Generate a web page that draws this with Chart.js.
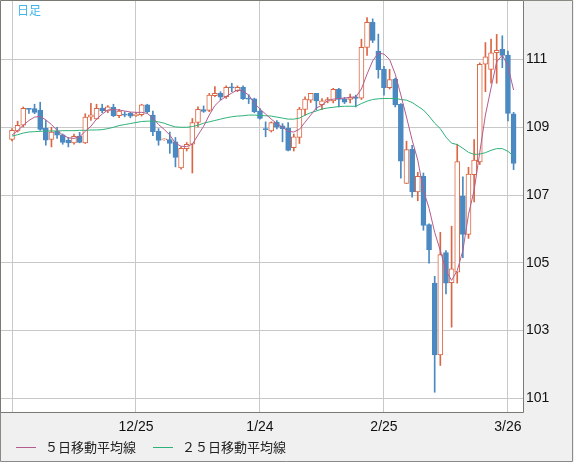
<!DOCTYPE html>
<html><head><meta charset="utf-8">
<script src="https://cdn.jsdelivr.net/npm/chart.js@4.4.1/dist/chart.umd.min.js"></script>
<style>html,body{margin:0;padding:0;background:#f0f0f0;overflow:hidden}canvas{display:block}</style>
</head><body>
<canvas id="c" width="574" height="462"></canvas>
<script>
// Daily candles (index 0 = first bar on the left)
const openP  = [108.64,108.89,109.06,109.56,109.55,109.51,108.97,108.64,108.89,108.78,108.62,108.54,108.74,108.54,109.30,109.25,109.57,109.48,109.59,109.34,109.39,109.41,109.34,109.37,109.66,109.36,108.88,108.63,108.64,108.57,107.80,108.37,108.50,109.14,109.52,109.50,109.93,110.00,109.90,110.19,110.08,110.18,109.86,109.84,109.48,108.96,108.89,109.15,109.04,108.97,108.40,108.70,109.53,109.80,110.00,109.67,109.77,109.78,110.12,109.84,109.82,109.90,109.86,111.36,112.10,111.25,110.72,110.17,110.42,109.68,107.34,108.35,107.09,107.55,106.13,104.40,102.28,105.30,104.41,104.72,106.96,105.84,107.60,107.98,110.86,110.71,111.20,111.30,111.13,109.40];
const highP  = [108.96,109.18,109.60,109.56,109.68,109.74,109.20,109.00,109.00,108.80,108.70,108.80,108.85,109.40,109.71,109.68,109.68,109.64,109.68,109.53,109.46,109.44,109.42,109.68,109.68,109.48,108.96,108.66,108.86,108.70,108.42,108.55,109.26,109.60,109.63,110.00,110.20,110.05,110.22,110.30,110.22,110.22,109.96,109.86,109.55,109.16,109.16,109.20,109.11,109.14,108.80,109.59,109.90,110.00,110.00,109.85,109.88,110.15,110.15,109.88,109.98,109.95,111.60,112.24,112.20,111.75,110.80,110.71,110.45,109.70,108.59,108.47,107.67,107.65,106.15,104.60,105.90,105.36,106.08,108.50,107.54,107.82,108.64,110.90,111.50,111.60,111.74,111.70,111.25,109.44];
const lowP   = [108.60,108.86,109.01,109.41,109.40,108.91,108.47,108.42,108.67,108.50,108.42,108.50,108.54,108.52,109.20,109.23,109.43,109.43,109.31,109.28,109.31,109.28,109.32,109.33,109.41,108.75,108.47,108.62,108.23,107.83,107.76,108.30,107.65,109.01,109.44,109.46,109.90,109.80,109.85,110.05,110.05,109.82,109.70,109.43,109.24,108.72,108.86,108.95,108.57,108.30,108.30,108.52,109.35,109.73,109.51,109.52,109.72,109.72,109.60,109.70,109.72,109.60,109.82,111.12,111.50,110.45,109.95,110.13,109.60,107.50,107.34,106.94,106.83,105.96,104.99,101.18,101.97,104.08,103.10,104.40,105.15,105.72,106.80,107.90,110.05,110.30,110.30,110.76,109.19,107.75];
const closeP = [108.91,109.06,109.56,109.53,109.44,108.94,108.62,108.86,108.77,108.55,108.54,108.73,108.55,109.30,109.37,109.56,109.48,109.60,109.34,109.48,109.36,109.33,109.39,109.66,109.45,108.87,108.61,108.65,108.52,108.11,108.38,108.50,109.14,109.53,109.47,109.95,110.00,109.89,110.18,110.16,110.18,109.84,109.83,109.46,109.26,108.93,109.14,109.00,108.96,108.32,108.72,109.54,109.83,110.00,109.78,109.78,109.82,110.12,109.82,109.74,109.88,109.85,111.36,112.10,111.56,110.70,110.17,110.41,109.66,108.00,108.34,107.09,107.55,106.10,105.39,102.28,105.24,104.40,104.82,107.99,105.84,107.62,108.03,110.86,111.08,111.20,111.27,111.12,109.41,107.93];
// Moving averages
const ma5  = [108.77,108.90,109.06,109.20,109.30,109.32,109.22,109.08,108.91,108.77,108.69,108.67,108.72,108.88,109.03,109.24,109.39,109.51,109.52,109.51,109.48,109.45,109.44,109.44,109.41,109.27,109.08,108.94,108.77,108.53,108.44,108.43,108.50,108.77,109.03,109.36,109.64,109.80,109.91,110.01,110.10,110.07,109.95,109.71,109.54,109.39,109.24,109.11,109.00,108.88,108.86,108.94,109.15,109.36,109.57,109.65,109.79,109.83,109.85,109.86,109.89,109.89,110.13,110.57,110.96,111.19,111.16,111.00,110.57,109.95,109.30,108.62,108.03,107.14,106.61,105.90,105.36,104.77,104.48,104.77,105.36,106.43,107.14,108.26,109.36,110.16,110.93,111.13,110.81,110.10];
const ma25 = [108.74,108.78,108.83,108.86,108.87,108.88,108.89,108.89,108.89,108.90,108.90,108.90,108.91,108.91,108.92,108.92,108.93,108.96,109.00,109.05,109.08,109.11,109.14,109.17,109.18,109.18,109.16,109.12,109.06,109.01,109.00,109.00,109.02,109.06,109.12,109.16,109.20,109.24,109.28,109.31,109.33,109.34,109.36,109.36,109.35,109.34,109.33,109.30,109.27,109.24,109.24,109.27,109.36,109.43,109.48,109.54,109.57,109.59,109.61,109.62,109.62,109.62,109.70,109.77,109.82,109.84,109.85,109.85,109.85,109.82,109.80,109.73,109.62,109.51,109.33,109.12,108.96,108.71,108.53,108.49,108.38,108.26,108.20,108.21,108.25,108.32,108.37,108.37,108.29,108.15];
const tickIndex  = [0, 22, 44, 66, 88];
const tickLabels = ['', '12/25', '1/24', '2/25', '3/26'];
const yTicks = [101, 103, 105, 107, 109, 111];
const seriesNames = ['５日移動平均線', '２５日移動平均線'];
const titleText = '日足';

const UP = '#dc6642', DOWN = '#4a89c1', MA5C = '#b45d8d', MA25C = '#2fb27a';
const isUp = openP.map((o, i) => closeP[i] >= o);

const wicks  = openP.map((o, i) => ({x: i, y: [lowP[i], highP[i]]}));
const bodies = openP.map((o, i) => ({x: i, y: [o, closeP[i]]}));

const framePlugin = {
  id: 'frame',
  beforeDraw(chart) {
    const {ctx, chartArea: a} = chart;
    ctx.save();
    ctx.fillStyle = '#f0f0f0';
    ctx.fillRect(0, 0, chart.width, chart.height);
    ctx.fillStyle = '#ffffff';
    ctx.fillRect(a.left, a.top, a.right - a.left, a.bottom - a.top);
    ctx.restore();
  },
  afterDraw(chart) {
    const {ctx, chartArea: a} = chart;
    ctx.save();
    ctx.strokeStyle = '#7a7a72';
    ctx.lineWidth = 1;
    ctx.beginPath();
    ctx.moveTo(a.left - 0.5, a.bottom + 0.5);
    ctx.lineTo(a.left - 0.5, a.top - 0.5);
    ctx.lineTo(a.right + 0.5, a.top - 0.5);
    ctx.lineTo(a.right + 0.5, a.bottom + 0.5);
    ctx.lineTo(a.left - 0.5, a.bottom + 0.5);
    ctx.stroke();
    ctx.strokeStyle = '#8a8a84';
    ctx.beginPath();
    ctx.moveTo(0.5, a.bottom);
    ctx.lineTo(0.5, chart.height - 0.5);
    ctx.lineTo(chart.width - 1.5, chart.height - 0.5);
    ctx.lineTo(chart.width - 1.5, 0.5);
    ctx.lineTo(a.right, 0.5);
    ctx.stroke();
    // title
    ctx.fillStyle = '#3fb6ea';
    ctx.font = '12px "Noto Sans CJK JP"';
    ctx.textBaseline = 'top';
    ctx.fillText(titleText, 17, 4);
    // legend
    const items = [{x: 16, c: MA5C, t: seriesNames[0]}, {x: 153, c: MA25C, t: seriesNames[1]}];
    ctx.font = '13px "Noto Sans CJK JP"';
    ctx.textBaseline = 'middle';
    items.forEach(it => {
      ctx.strokeStyle = it.c;
      ctx.beginPath();
      ctx.moveTo(it.x, 447.5);
      ctx.lineTo(it.x + 20, 447.5);
      ctx.stroke();
      ctx.fillStyle = '#222';
      ctx.fillText(it.t, it.x + 29, 447);
    });
    ctx.restore();
  }
};

new Chart(document.getElementById('c'), {
  data: {
    datasets: [
      {type: 'bar', label: 'wick', data: wicks, backgroundColor: isUp.map(u => u ? UP : DOWN),
       barThickness: 1, grouped: false, order: 3},
      {type: 'bar', label: 'body', data: bodies, backgroundColor: isUp.map(u => u ? '#ffffff' : DOWN),
       borderColor: isUp.map(u => u ? UP : DOWN), borderWidth: 1, borderSkipped: false,
       barThickness: 5, grouped: false, minBarLength: 1, order: 2},
      {type: 'line', label: seriesNames[0], data: ma5.map((v, i) => ({x: i, y: v})),
       borderColor: MA5C, borderWidth: 1, pointRadius: 0, tension: 0, order: 1},
      {type: 'line', label: seriesNames[1], data: ma25.map((v, i) => ({x: i, y: v})),
       borderColor: MA25C, borderWidth: 1, pointRadius: 0, tension: 0, order: 1}
    ]
  },
  options: {
    responsive: false, animation: false, devicePixelRatio: 1,
    layout: {padding: {left: 1, top: 1, right: 0, bottom: 0}},
    plugins: {legend: {display: false}, tooltip: {enabled: false}},
    scales: {
      x: {
        type: 'linear', min: -1.952, max: 90.67, offset: false,
        grid: {color: '#c8c8c8', drawTicks: false, offset: false},
        border: {display: false},
        afterBuildTicks: s => { s.ticks = tickIndex.map(v => ({value: v})); },
        afterFit: s => { s.height = 50; s.paddingLeft = 0; s.paddingRight = 0; },
        ticks: {autoSkip: false, maxRotation: 0, minRotation: 0, padding: 7, color: '#111',
          font: {family: 'Liberation Sans', size: 14},
          callback: v => { const k = tickIndex.indexOf(v); return k >= 0 ? tickLabels[k] : ''; }}
      },
      y: {
        type: 'linear', position: 'right', min: 100.596, max: 112.727,
        grid: {color: '#c8c8c8', drawTicks: false},
        border: {display: false},
        afterBuildTicks: s => { s.ticks = yTicks.map(v => ({value: v})); },
        afterFit: s => { s.width = 51; s.paddingTop = 0; s.paddingBottom = 0; },
        ticks: {padding: 3, color: '#111', font: {family: 'Liberation Sans', size: 14}}
      }
    }
  },
  plugins: [framePlugin]
});
</script>
</body></html>
